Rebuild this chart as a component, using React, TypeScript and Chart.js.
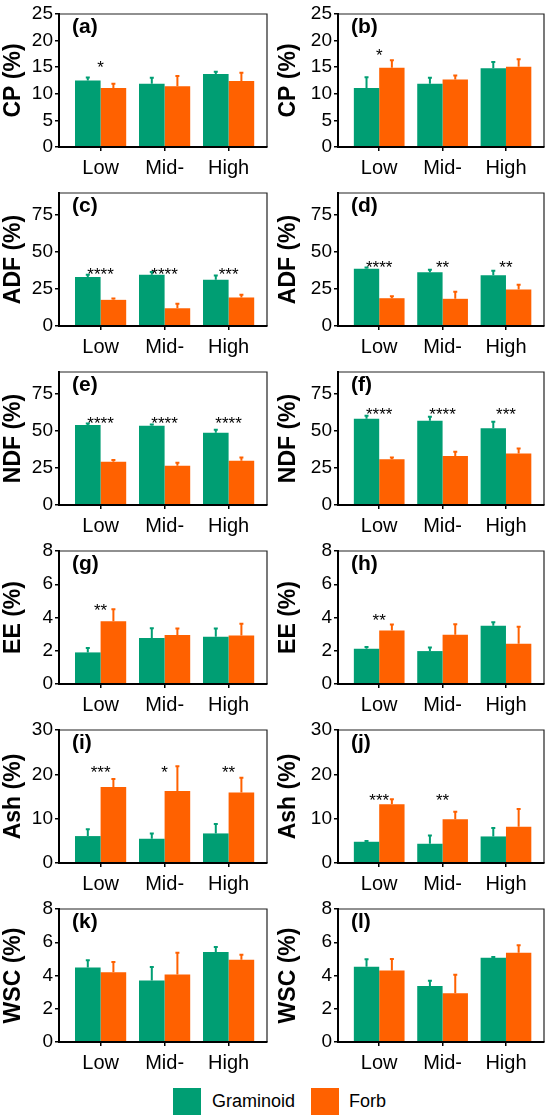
import { useEffect, useRef } from 'react';
import { Chart, registerables } from 'chart.js';

Chart.register(...registerables);

const FONT = "'Liberation Sans', Arial, Helvetica, sans-serif";
Chart.defaults.font.family = FONT;
Chart.defaults.color = '#000';

const categories = ['Low', 'Mid-', 'High'];
const seriesNames = ['Graminoid', 'Forb'];
const seriesColors = ['#009e73', '#ff6100'];

const panelTags = ['(a)', '(b)', '(c)', '(d)', '(e)', '(f)', '(g)', '(h)', '(i)', '(j)', '(k)', '(l)'];
const yTitles = ['CP (%)', 'CP (%)', 'ADF (%)', 'ADF (%)', 'NDF (%)', 'NDF (%)', 'EE (%)', 'EE (%)', 'Ash (%)', 'Ash (%)', 'WSC (%)', 'WSC (%)'];
const yMax = [25, 25, 90, 90, 90, 90, 8, 8, 30, 30, 8, 8];

const cpTicks = [0, 5, 10, 15, 20, 25];
const fibreTicks = [0, 25, 50, 75];
const smallTicks = [0, 2, 4, 6, 8];
const ashTicks = [0, 10, 20, 30];
const yTicks = [cpTicks, cpTicks, fibreTicks, fibreTicks, fibreTicks, fibreTicks, smallTicks, smallTicks, ashTicks, ashTicks, smallTicks, smallTicks];

// one row per panel (a..l), values for Low / Mid- / High
const graminoidMeans = [
  [12.5, 11.9, 13.7],
  [11.1, 11.9, 14.8],
  [33.1, 34.7, 31.3],
  [38.7, 36.3, 34.4],
  [54.1, 53.6, 48.9],
  [58.3, 57.0, 52.0],
  [1.9, 2.76, 2.84],
  [2.12, 1.98, 3.5],
  [6.07, 5.47, 6.67],
  [4.79, 4.34, 5.99],
  [4.48, 3.7, 5.41],
  [4.53, 3.37, 5.07],
];
const graminoidErr = [
  [0.55, 1.1, 0.45],
  [2.0, 1.1, 1.2],
  [1.6, 1.8, 2.9],
  [0.9, 1.8, 3.0],
  [1.1, 0.9, 2.0],
  [2.1, 2.7, 4.3],
  [0.26, 0.6, 0.5],
  [0.1, 0.22, 0.22],
  [1.57, 1.2, 2.1],
  [0.15, 1.88, 1.88],
  [0.43, 0.81, 0.3],
  [0.44, 0.31, 0.04],
];
const forbMeans = [
  [11.1, 11.4, 12.4],
  [14.9, 12.7, 15.1],
  [17.7, 12.0, 19.3],
  [18.8, 18.4, 24.7],
  [29.3, 26.6, 30.0],
  [30.9, 33.1, 34.9],
  [3.78, 2.94, 2.92],
  [3.22, 2.96, 2.42],
  [17.15, 16.25, 15.88],
  [13.26, 9.89, 8.16],
  [4.2, 4.06, 4.95],
  [4.3, 2.93, 5.37],
];
const forbErr = [
  [0.8, 1.95, 1.55],
  [1.4, 0.75, 1.4],
  [0.9, 3.0, 1.8],
  [1.4, 4.7, 3.2],
  [1.1, 2.0, 2.2],
  [1.3, 2.9, 3.4],
  [0.72, 0.4, 0.7],
  [0.36, 0.64, 1.02],
  [1.8, 5.6, 3.37],
  [1.12, 1.65, 4.04],
  [0.61, 1.31, 0.3],
  [0.69, 1.11, 0.45],
];
const stars = [
  ['*', '', ''],
  ['*', '', ''],
  ['****', '****', '***'],
  ['****', '**', '**'],
  ['****', '****', '****'],
  ['****', '****', '***'],
  ['**', '', ''],
  ['**', '', ''],
  ['***', '*', '**'],
  ['***', '**', ''],
  ['', '', ''],
  ['', '', ''],
];
const starLevel = [15.7, 17.9, 37.4, 42.1, 57.9, 63.5, 4.62, 4.02, 21.2, 14.8, 0, 0];

function Panel({ idx }: { idx: number }) {
  const chartRef = useRef<HTMLCanvasElement>(null);

  useEffect(() => {
    if (!chartRef.current) return;
    const col = idx % 2;
    const means = [graminoidMeans[idx], forbMeans[idx]];
    const errs = [graminoidErr[idx], forbErr[idx]];

    // error bars, significance stars, panel tag and the top/right frame
    const extras = {
      id: 'extras',
      afterDatasetsDraw(chart: any) {
        const { ctx, chartArea, scales } = chart;
        const xs = scales.x;
        const ys = scales.y;
        ctx.save();
        means.forEach((arr, d) => {
          const meta = chart.getDatasetMeta(d);
          ctx.strokeStyle = seriesColors[d];
          ctx.lineWidth = 2;
          meta.data.forEach((bar: any, i: number) => {
            const top = ys.getPixelForValue(arr[i] + errs[d][i]);
            ctx.beginPath();
            ctx.moveTo(bar.x, bar.y);
            ctx.lineTo(bar.x, top);
            ctx.moveTo(bar.x - 2, top);
            ctx.lineTo(bar.x + 2, top);
            ctx.stroke();
          });
        });

        ctx.fillStyle = '#000';
        ctx.font = `17px ${FONT}`;
        ctx.textAlign = 'center';
        ctx.textBaseline = 'middle';
        stars[idx].forEach((s, i) => {
          if (s) ctx.fillText(s, xs.getPixelForValue(i), ys.getPixelForValue(starLevel[idx]) + 4.4);
        });

        ctx.font = `bold 21px ${FONT}`;
        ctx.textAlign = 'left';
        ctx.fillText(panelTags[idx], chartArea.left + 13, chartArea.top + 13.5);

        ctx.strokeStyle = '#222';
        ctx.lineWidth = 1.2;
        ctx.beginPath();
        ctx.moveTo(chartArea.left, chartArea.top);
        ctx.lineTo(chartArea.right, chartArea.top);
        ctx.lineTo(chartArea.right, chartArea.bottom);
        ctx.stroke();
        ctx.restore();
      },
    };

    const chart = new Chart(chartRef.current, {
      type: 'bar',
      data: {
        datasets: seriesNames.map((name, d) => ({
          label: name,
          data: means[d].map((v, i) => ({ x: i, y: v })),
          backgroundColor: seriesColors[d],
          borderWidth: 0,
          categoryPercentage: 0.8,
          barPercentage: 1,
        })),
      },
      options: {
        animation: false,
        responsive: true,
        maintainAspectRatio: false,
        layout: { padding: { top: 14, right: col ? 6 : 8, left: 0, bottom: 0 } },
        plugins: {
          legend: { display: false },
          tooltip: { enabled: false },
        },
        scales: {
          x: {
            type: 'linear',
            offset: false,
            min: -0.65,
            max: 2.6,
            afterBuildTicks: (s: any) => {
              s.ticks = categories.map((_, i) => ({ value: i }));
            },
            afterFit: (s: any) => {
              s.height = 32;
            },
            ticks: {
              callback: (v: any) => categories[v],
              font: { size: 20 },
              padding: 5,
              color: '#000',
              maxRotation: 0,
              autoSkip: false,
            },
            grid: { display: true, offset: false, drawOnChartArea: false, drawTicks: true, tickLength: 4, color: '#000', lineWidth: 1.5 },
            border: { display: true, color: '#000', width: 2, z: 1 },
          },
          y: {
            min: 0,
            max: yMax[idx],
            afterBuildTicks: (s: any) => {
              s.ticks = yTicks[idx].map((v) => ({ value: v }));
            },
            afterFit: (s: any) => {
              s.width = col ? 63 : 59;
            },
            ticks: { font: { size: 19 }, padding: 2, color: '#000' },
            grid: { display: true, drawOnChartArea: false, drawTicks: true, tickLength: 4, color: '#000', lineWidth: 1.5 },
            border: { display: true, color: '#000', width: 2, z: 1 },
            title: {
              display: true,
              text: yTitles[idx],
              color: '#000',
              font: { size: 23, weight: 'bold' },
              padding: { top: 0, bottom: 0 },
            },
          },
        },
      } as any,
      plugins: [extras],
    });

    return () => {
      chart.destroy();
    };
  }, [idx]);

  return <canvas ref={chartRef} />;
}

export default function App() {
  return (
    <div style={{ position: 'absolute', left: 0, top: 0, width: 550, height: 1120, background: '#fff', fontFamily: FONT }}>
      {panelTags.map((tag, idx) => (
        <div
          key={tag}
          style={{ position: 'absolute', left: (idx % 2) * 275, top: Math.floor(idx / 2) * 179, width: 275, height: 179 }}
        >
          <Panel idx={idx} />
        </div>
      ))}

      {/* Legend */}
      {seriesNames.map((name, d) => (
        <div
          key={name}
          style={{ position: 'absolute', left: d ? 311 : 173, top: 1088, height: 27, display: 'flex', alignItems: 'center' }}
        >
          <div style={{ width: 28, height: 27, background: seriesColors[d] }} />
          <span style={{ marginLeft: d ? 10 : 11, fontSize: 18, color: '#000' }}>{name}</span>
        </div>
      ))}
    </div>
  );
}
